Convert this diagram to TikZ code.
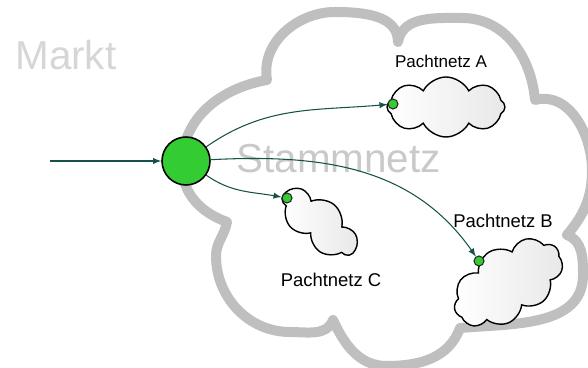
\documentclass[tikz,border=0pt]{standalone}
\usepackage{fontspec}
\setmainfont{Liberation Sans}
\usepackage{tikz}
\usetikzlibrary{shapes,shapes.symbols,positioning,calc}
\usetikzlibrary{arrows.meta}
\definecolor{dotgreen}{RGB}{51,204,51}
\definecolor{linkcol}{RGB}{22,82,72}
\colorlet{netgray}{black!25}

\begin{document}
\begin{tikzpicture}[x=0.02cm, y=0.02cm, >=latex,
	bigtext/.style={text=black!16, font=\fontsize{23}{23}\selectfont, inner sep=0pt, anchor=base west},
	subnet/.style={cloud, cloud puffs=#1, cloud puff arc=125, cloud ignores aspect, draw, line width=0.8pt, left color=white, right color=black!9, inner sep=0pt},
	netlabel/.style={font=\fontsize{10.5}{10.5}\selectfont, inner sep=0pt},
	port/.style={circle, draw=black!85, fill=dotgreen, line width=0.6pt, minimum size=0.2cm, inner sep=0pt},
	link/.style={->, draw=linkcol, line width=0.6pt}]
				\useasboundingbox (0,0) rectangle (588,368);

				% Stammnetz

				\draw[netgray, line width=0.2cm, line join=round] (267,288) to[out=100,in=180] (335,356) to[out=0,in=90] (398,326)
					to[out=80,in=180] (462,350) to[out=0,in=95] (535,268)
					to[out=15,in=90] (592,198) to[out=-90,in=50] (567,133)
					to[out=-20,in=90] (583,93) to[out=-90,in=5] (460,40)
					to[out=-110,in=0] (387,2) to[out=180,in=-65] (333,48)
					to[out=-110,in=0] (290,36) to[out=180,in=-90] (216,112) to[out=90,in=-100] (227,146)
					to[out=160,in=-90] (182,203) to[out=90,in=190] cycle;
				\node [bigtext] (markt) at (15,298) {Markt};
				\node [bigtext, text=black!21] (stamm) at (236,195) {Stammnetz};

				% Nodes

				\node [subnet=8, minimum width=2.36cm, minimum height=1.2cm] (ca) at (446,261) {};
				\node [subnet=7, minimum width=1.8cm, minimum height=0.95cm, rotate=-40] (cc) at (319,145) {};
				\node [subnet=9, minimum width=2.4cm, minimum height=1.45cm, rotate=32] (cb) at (508,85) {};
				\node [netlabel, font=\fontsize{9.7}{9.7}\selectfont] (la) at (441,307) {Pachtnetz A};
				\node [netlabel] (lb) at (503,147) {Pachtnetz B};
				\node [netlabel] (lc) at (331,88) {Pachtnetz C};
				\node [port] (da) at (393,264) {};
				\node [port] (dc) at (287,170) {};
				\node [port] (db) at (479,107) {};
				\node [circle, draw, line width=0.9pt, fill=dotgreen, minimum size=0.96cm, inner sep=0pt] (hub) at (186,207) {};
				\coordinate (feed) at (50,207);

				% Arrows

				\draw[link] (feed) -- (hub);
				\draw[link] (hub) to[out=35,in=185] (da);
				\draw[link] (hub) to[out=3,in=125] (db);
				\draw[link] (hub) to[out=-35,in=170] (dc);
			\end{tikzpicture}
\end{document}
